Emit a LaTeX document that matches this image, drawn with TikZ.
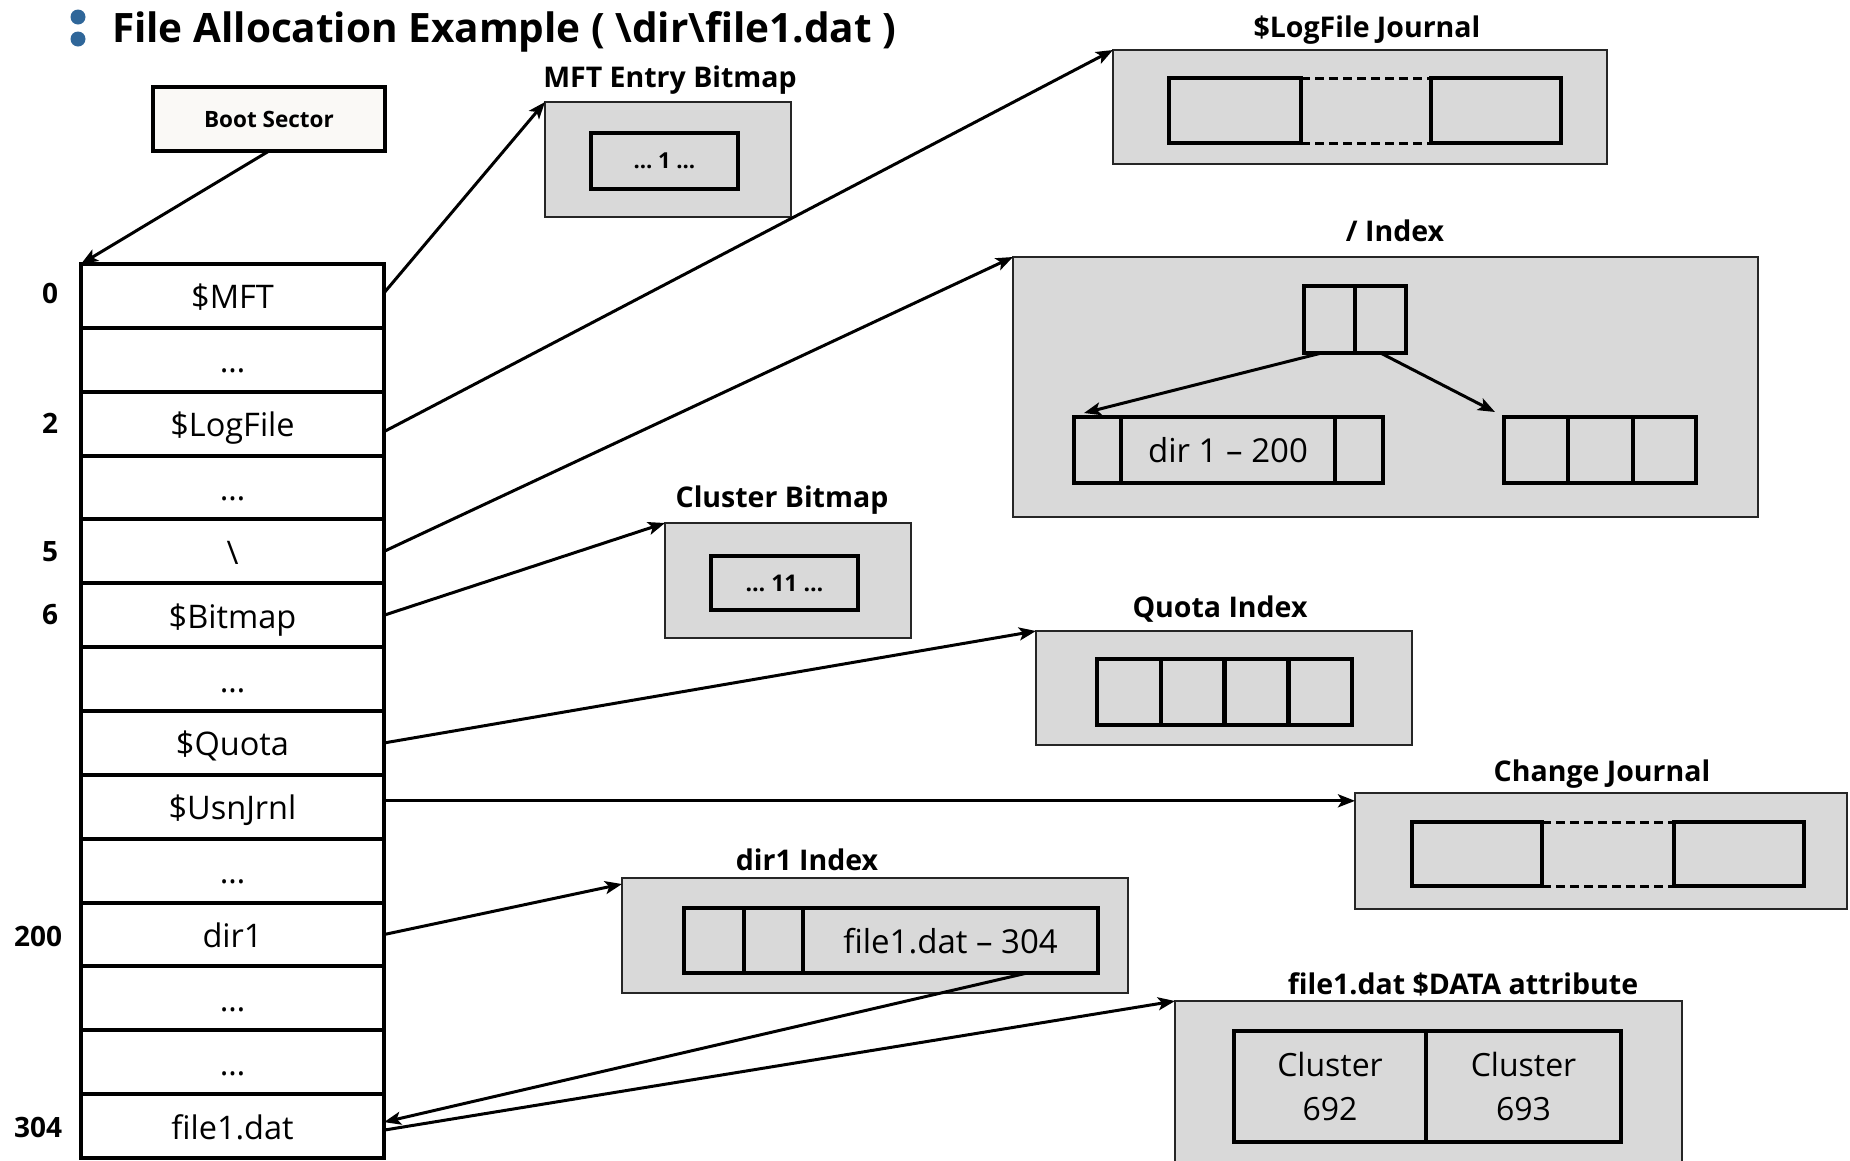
\documentclass[tikz,border=0pt]{standalone}
\usepackage{fontspec}
\setmainfont{Open Sans}
\usetikzlibrary{arrows.meta,calc}
\definecolor{boxgray}{HTML}{D9D9D9}
\definecolor{bulletblue}{HTML}{2F6699}
\definecolor{bootfill}{HTML}{FAF9F6}

\begin{document}
\begin{tikzpicture}[x=1pt, y=-1pt,
  every node/.style={inner sep=0pt, outer sep=0pt},
  cell/.style={draw, line width=4pt, anchor=north west, minimum width=303pt,
    minimum height=63.86pt, font=\fontsize{32.5}{38}\selectfont,
    text height=26pt, text depth=0pt},
  num/.style={font=\bfseries\fontsize{28}{32}\selectfont, text height=19.5pt, text depth=0pt},
  lbl/.style={font=\bfseries\fontsize{28.5}{33}\selectfont, text height=20pt, text depth=0pt},
  gbox/.style={fill=boxgray, draw=black!85, line width=2pt, anchor=north west},
  ibox/.style={draw, line width=4.5pt, anchor=north west},
  itext/.style={font=\fontsize{33}{38}\selectfont, text height=25pt, text depth=0pt},
  dots/.style={font=\bfseries\fontsize{22}{26}\selectfont, text height=15.5pt, text depth=0pt},
  gap/.style={line width=3pt, dash pattern=on 9pt off 5pt},
  link/.style={line width=3pt, -{Stealth[length=17pt, width=13pt, inset=4pt]}},
]
\useasboundingbox (0,0) rectangle (1850,1160);
\clip (0,0) rectangle (1850,1160);

% title
\fill[bulletblue] (78,17) circle[radius=7.5pt];
\fill[bulletblue] (78,39) circle[radius=7.5pt];
\node[anchor=west, font=\bfseries\fontsize{40.5}{46}\selectfont, text height=28.5pt, text depth=0pt]
  (title) at (112,28.5) {File Allocation Example ( \textbackslash dir\textbackslash file1.dat )};

% boot sector
\node[draw, line width=3.5pt, fill=bootfill, anchor=north west, minimum width=232pt,
  minimum height=64pt, font=\bfseries\fontsize{22.5}{26}\selectfont, text height=16pt, text depth=0pt]
  (boot) at (153,87) {Boot Sector};

% MFT entries
\foreach \t [count=\i from 0] in {\$MFT, …, \$LogFile, …, \textbackslash, \$Bitmap, …,
    \$Quota, \$UsnJrnl, …, dir1, …, …, file1.dat}
  \node[cell] (r\i) at (81, {264+63.86*\i}) {\t};

\node[num] at ([xshift=-31pt,yshift=2pt]r0.west) {0};
\node[num] at ([xshift=-31pt]r2.west) {2};
\node[num] at ([xshift=-31pt]r4.west) {5};
\node[num] at ([xshift=-31pt]r5.west) {6};
\node[num] at ([xshift=-43pt,yshift=-2pt]r10.west) {200};
\node[num] at ([xshift=-43pt,yshift=-2pt]r13.west) {304};

% MFT entry bitmap
\node[lbl] at (670,77) {MFT Entry Bitmap};
\node[gbox, minimum width=246pt, minimum height=115pt] (mftbm) at (545,102) {};
\node[ibox, dots, minimum width=147pt, minimum height=56pt] (mftv) at (591,133) {… 1 …};

% $LogFile journal
\node[lbl] at (1367,27) {\$LogFile Journal};
\node[gbox, minimum width=494pt, minimum height=114pt] (lj) at (1113,50) {};
\node[ibox, minimum width=132pt, minimum height=65pt] (lj1) at (1169,78) {};
\node[ibox, minimum width=130pt, minimum height=65pt] (lj2) at (1431,78) {};
\draw[gap] (lj1.north east) -- (lj2.north west);
\draw[gap] (lj1.south east) -- (lj2.south west);

% root index
\node[lbl] at (1395,231.5) {/ Index};
\node[gbox, minimum width=745pt, minimum height=260pt] (idx) at (1013,257) {};
\node[ibox, minimum width=51pt, minimum height=67pt] (rt1) at (1304,286) {};
\node[ibox, minimum width=51pt, minimum height=67pt] (rt2) at (1355,286) {};
\node[ibox, minimum width=47pt, minimum height=66pt] (ln1) at (1074,417) {};
\node[ibox, itext, minimum width=214pt, minimum height=66pt] (ln2) at (1121,417) {dir 1 – 200};
\node[ibox, minimum width=48pt, minimum height=66pt] (ln3) at (1335,417) {};
\node[ibox, minimum width=64pt, minimum height=66pt] (rn1) at (1504,417) {};
\node[ibox, minimum width=65pt, minimum height=66pt] (rn2) at (1568,417) {};
\node[ibox, minimum width=63pt, minimum height=66pt] (rn3) at (1633,417) {};
\draw[link] ([xshift=-8pt]rt1.south) -- ([xshift=10pt,yshift=4pt]ln1.north west);
\draw[link] (rt2.south) -- ([xshift=-9pt,yshift=5pt]rn1.north west);

% cluster bitmap
\node[lbl] at (782,497.5) {Cluster Bitmap};
\node[gbox, minimum width=246pt, minimum height=115pt] (cb) at (665,523) {};
\node[ibox, dots, font=\bfseries\fontsize{23}{27}\selectfont, text height=17pt,
  minimum width=147pt, minimum height=54pt] (cbv) at (711,556) {… 11 …};

% quota index
\node[lbl] at (1220,607.5) {Quota Index};
\node[gbox, minimum width=376pt, minimum height=114pt] (qi) at (1036,631) {};
\foreach \k in {0,...,3}
  \node[ibox, minimum width=63.75pt, minimum height=66pt] (q\k) at ({1097+63.75*\k},659) {};

% change journal
\node[lbl] at (1602,771.5) {Change Journal};
\node[gbox, minimum width=492pt, minimum height=116pt] (cj) at (1355,793) {};
\node[ibox, minimum width=130pt, minimum height=64pt] (cj1) at (1412,822) {};
\node[ibox, minimum width=130pt, minimum height=64pt] (cj2) at (1674,822) {};
\draw[gap] (cj1.north east) -- (cj2.north west);
\draw[gap] (cj1.south east) -- (cj2.south west);

% dir1 index
\node[lbl] at (807,860) {dir1 Index};
\node[gbox, minimum width=506pt, minimum height=115pt] (d1) at (622,878) {};
\node[ibox, minimum width=60pt, minimum height=65pt] (d1a) at (684,908) {};
\node[ibox, minimum width=59pt, minimum height=65pt] (d1b) at (744,908) {};
\node[ibox, itext, minimum width=295pt, minimum height=65pt] (d1c) at (803,908) {file1.dat – 304};

% $DATA attribute of file1.dat
\node[lbl] at (1463,984) {file1.dat \$DATA attribute};
\node[gbox, minimum width=507pt, minimum height=200pt] (data) at (1175,1001) {};
\node[ibox, align=center, font=\fontsize{32}{44}\selectfont, minimum width=192pt,
  minimum height=111pt] (c1) at (1234,1031) {Cluster\\692};
\node[ibox, align=center, font=\fontsize{32}{44}\selectfont, minimum width=195pt,
  minimum height=111pt] (c2) at (1426,1031) {Cluster\\693};

% pointers out of the MFT
\draw[link] (boot.south) -- (r0.north west);
\draw[link] ([yshift=3pt]r0.east) -- (mftbm.north west);
\draw[link] ([yshift=-8pt]r2.east) -- (lj.north west);
\draw[link] (r4.east) -- (idx.north west);
\draw[link] (r5.east) -- (cb.north west);
\draw[link] (r7.east) -- (qi.north west);
\coordinate (usn) at ([yshift=6pt]r8.east);
\draw[link] (usn) -- (usn -| cj.west);
\draw[link] (r10.east) -- ([yshift=-6pt]d1.north west);
\draw[link] ($(d1c.south west)!0.76!(d1c.south east)$) -- ([yshift=4pt]r13.east);
\draw[link] ([yshift=-4pt]r13.east) -- (data.north west);
\end{tikzpicture}
\end{document}
